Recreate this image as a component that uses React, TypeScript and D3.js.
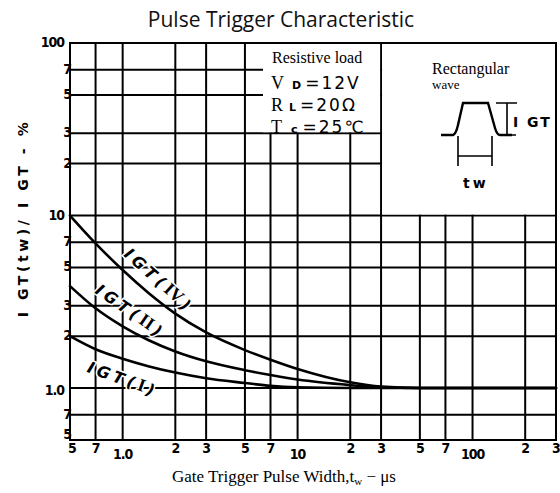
import * as d3 from "d3";

const xTicks = [0.5, 0.7, 1, 2, 3, 5, 7, 10, 20, 30, 50, 70, 100, 200, 300];
const xTickLabels = ["5", "7", "1.0", "2", "3", "5", "7", "10", "2", "3", "5", "7", "100", "2", "3"];
const yTicks = [0.5, 0.7, 1, 2, 3, 5, 7, 10, 20, 30, 50, 70, 100];
const yTickLabels = ["5", "7", "1.0", "2", "3", "5", "7", "10", "2", "3", "5", "7", "100"];

// pulse width (us) and relative gate trigger current (%) per mode
const pulseWidth = [0.5, 0.7, 1, 1.4, 2, 3, 5, 7, 10, 20, 30, 50, 100, 300];
const igtIV = [10, 6.9, 4.83, 3.57, 2.7, 2.1, 1.66, 1.46, 1.29, 1.08, 1.02, 1.0, 1.0, 1.0];
const igtII = [3.9, 2.9, 2.28, 1.9, 1.63, 1.43, 1.27, 1.19, 1.12, 1.04, 1.01, 1.0, 1.0, 1.0];
const igtI = [2.0, 1.68, 1.48, 1.34, 1.23, 1.14, 1.07, 1.03, 1.01, 1.0, 1.0, 1.0, 1.0, 1.0];

const curveLabels = [
  { text: "IGT(", roman: "IV", x: 1.6, y: 4.15, angle: 42 },
  { text: "IGT(", roman: "II", x: 1.1, y: 2.75, angle: 35 },
  { text: "IGT(", roman: "I", x: 1.0, y: 1.11, angle: 20 },
];

const W = 560;
const H = 493;
const margin = { top: 43, right: 4, bottom: 53, left: 70 };

export default function App() {
  const x = d3.scaleLog().domain([0.5, 300]).range([margin.left, W - margin.right]);
  const y = d3.scaleLog().domain([0.5, 100]).range([H - margin.bottom, margin.top]);

  const line = d3
    .line<number>()
    .x((_, i) => x(pulseWidth[i]))
    .y((d) => y(d))
    .curve(d3.curveMonotoneX);

  const x0 = x.range()[0];
  const x1 = x.range()[1];
  const y0 = y.range()[0];
  const y1 = y.range()[1];

  const digitFont = { fontFamily: "DejaVu Sans Condensed, DejaVu Sans", fontWeight: 700, fontSize: 14 };

  return (
    <svg
      width={W}
      height={H}
      style={{ position: "absolute", left: 0, top: 0, background: "#fff" }}
    >
      <text x={281} y={27} textAnchor="middle" fontFamily="Open Sans" fontSize={21} fill="#111">
        Pulse Trigger Characteristic
      </text>

      {/* grid */}
      <g stroke="#000" strokeWidth={2}>
        {xTicks.map((t) => (
          <line key={"gx" + t} x1={x(t)} x2={x(t)} y1={y1} y2={y0} />
        ))}
        {yTicks.map((t) => (
          <line key={"gy" + t} x1={x0} x2={x1} y1={y(t)} y2={y(t)} />
        ))}
      </g>

      {/* condition boxes hide the grid */}
      <rect x={263} y={y1 + 1} width={x(30) - 264} height={y(30) - y1 - 2} fill="#fff" />
      <rect x={x(30) + 1} y={y1 + 1} width={x1 - x(30) - 2} height={y(10) - y1 - 2} fill="#fff" />

      {/* curves */}
      <g fill="none" stroke="#000" strokeWidth={2.6} strokeLinecap="round">
        <path d={line(igtIV) ?? ""} />
        <path d={line(igtII) ?? ""} />
        <path d={line(igtI) ?? ""} />
      </g>

      {curveLabels.map((l, i) => (
        <text
          key={i}
          transform={`translate(${x(l.x)},${y(l.y)}) rotate(${l.angle})`}
          textAnchor="middle"
          dominantBaseline="middle"
          fontFamily="DejaVu Sans"
          fontWeight={700}
          fontStyle="italic"
          fontSize={16}
          letterSpacing={4}
          fill="#000"
          stroke="#fff"
          strokeWidth={3}
          paintOrder="stroke"
        >
          {l.text}
          <tspan fontFamily="Liberation Serif" fontStyle="normal" fontSize={18} letterSpacing={0}>
            {l.roman}
          </tspan>
          <tspan dx={3}>)</tspan>
        </text>
      ))}

      {/* border */}
      <rect x={x0} y={y1} width={x1 - x0} height={y0 - y1} fill="none" stroke="#000" strokeWidth={2} />

      {/* y tick labels */}
      {yTicks.map((t, i) => {
        const lab = yTickLabels[i];
        const wide = lab.length > 1;
        const dy = lab === "1.0" ? 3 : i === 0 ? -5 : 0;
        return (
          <text
            key={"ly" + t}
            x={wide ? x0 - 6 : x0 + 1}
            y={y(t) + dy}
            textAnchor="end"
            dominantBaseline="middle"
            letterSpacing={-1}
            {...digitFont}
          >
            {lab}
          </text>
        );
      })}

      {/* x tick labels */}
      {xTicks.map((t, i) => {
        const lab = xTickLabels[i];
        const wide = lab.length > 1;
        return (
          <text
            key={"lx" + t}
            x={x(t) + (i === 0 ? 2 : 0)}
            y={y0 + (wide ? 15 : 9)}
            textAnchor="middle"
            dominantBaseline="middle"
            letterSpacing={-1}
            {...digitFont}
          >
            {lab}
          </text>
        );
      })}

      {/* axis titles */}
      <text x={284} y={482} textAnchor="middle" fontFamily="Liberation Serif" fontSize={17} fill="#000">
        Gate Trigger Pulse Width,t
        <tspan fontSize={11} dy={3}>w</tspan>
        <tspan dy={-3}> − μs</tspan>
      </text>
      <text
        transform="translate(24,218) rotate(-90)"
        textAnchor="middle"
        dominantBaseline="middle"
        fontFamily="DejaVu Sans"
        fontWeight={700}
        fontSize={14}
        letterSpacing={3.6}
        fill="#000"
      >
        I GT(tw)/ I GT - %
      </text>

      {/* test conditions */}
      <text x={272} y={63} fontFamily="Liberation Serif" fontSize={16}>Resistive load</text>
      <g fontFamily="DejaVu Sans" fontSize={17} letterSpacing={2}>
        <text x={271} y={89}>
          <tspan fontFamily="Liberation Serif" fontSize={18}>V</tspan>
          <tspan fontSize={11} fontWeight={700} dx={6}>D</tspan>
          <tspan dx={2}>=12V</tspan>
        </text>
        <text x={271} y={111}>
          <tspan fontFamily="Liberation Serif" fontSize={18}>R</tspan>
          <tspan fontSize={11} fontWeight={700} dx={4}>L</tspan>
          <tspan dx={2}>=20Ω</tspan>
        </text>
        <text x={271} y={133}>
          <tspan fontFamily="Liberation Serif" fontSize={18}>T</tspan>
          <tspan fontSize={11} fontWeight={700} dx={7}>c</tspan>
          <tspan dx={3}>=25℃</tspan>
        </text>
      </g>

      {/* rectangular wave sketch */}
      <text x={432} y={74} fontFamily="Liberation Serif" fontSize={16}>Rectangular</text>
      <text x={432} y={89} fontFamily="Liberation Serif" fontSize={13}>wave</text>
      <g fill="none" stroke="#000" strokeWidth={2}>
        <path d="M441,135 L453,135 Q456,134 458,125 L463,103 L488,103 L495,128 Q497,135 500,135 L512,135" strokeWidth={2.4} />
        <path d="M496,103 L517,103 M507,103 L507,135 M502,135 L516,135" strokeWidth={1.6} />
        <path d="M458,136 L458,166 M492,136 L492,166 M458,156 L492,156" strokeWidth={1.6} />
      </g>
      <text x={513} y={127} fontFamily="DejaVu Sans" fontWeight={700} fontSize={14} letterSpacing={2}>
        I GT
      </text>
      <text x={463} y={188} fontFamily="DejaVu Sans" fontWeight={700} fontSize={14} letterSpacing={3}>
        tw
      </text>
    </svg>
  );
}
